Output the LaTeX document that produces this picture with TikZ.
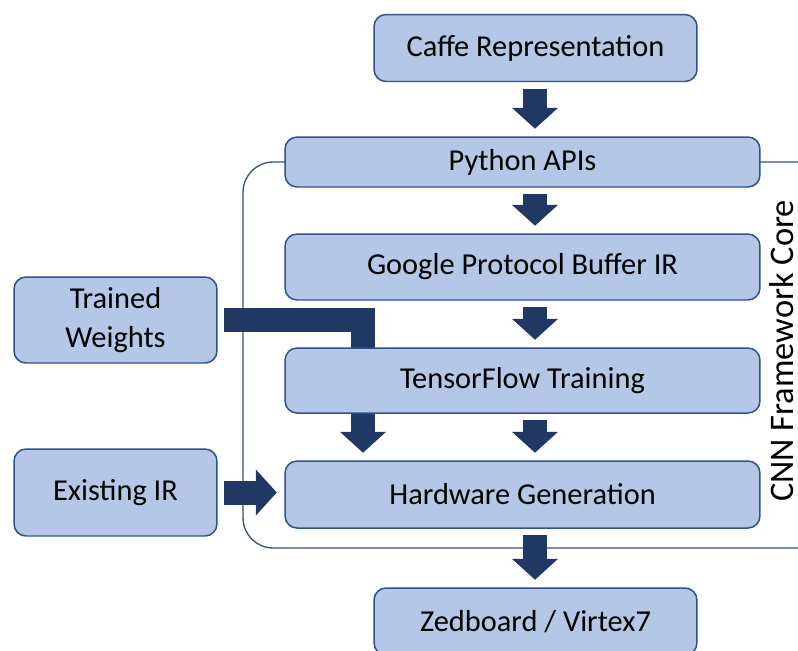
\documentclass[tikz,border=0pt]{standalone}
\usepackage{fontspec}
\setmainfont{Carlito}
\usepackage{tikz}
\usetikzlibrary{calc, arrows.meta, backgrounds, positioning}
\definecolor{boxfill}{RGB}{180, 199, 231}
\definecolor{boxline}{RGB}{47, 82, 143}
\definecolor{navy}{RGB}{31, 56, 100}
\tikzset{
    boxnode/.style = {draw=boxline, fill=boxfill, rectangle, rounded corners=0.24cm, line width=0.85pt,
      inner sep=0em, align=center, font=\fontsize{17.3}{22}\selectfont},
    textnode/.style = {draw=none, fill=none, rectangle, inner sep=0em, text depth=0pt, font=\fontsize{19.6}{24}\selectfont},
    corebox/.style = {draw=boxline, fill=none, rectangle, rounded corners=0.6cm, line width=0.75pt, inner sep=0em},
    blockarrow/.style = {navy, line width=0.48cm, -{Triangle[width=0.9cm, length=0.42cm]},
      shorten <=0.13cm, shorten >=0.15cm}
}

\begin{document}
\begin{tikzpicture}[x=0.02cm, y=-0.02cm]
    \useasboundingbox (0,0) rectangle (798,650);

    \node[boxnode, name=Caffe, minimum width=6.46cm, minimum height=1.34cm] at (535.5,48) {Caffe Representation};
    \node[boxnode, name=Python, minimum width=9.5cm, minimum height=1cm] at (522.5,162) {Python APIs};
    \node[boxnode, name=ProtoBuf, minimum width=9.5cm, minimum height=1.32cm] at (522.5,267) {Google Protocol Buffer IR};
    \node[boxnode, name=Training, minimum width=9.5cm, minimum height=1.3cm] at (522.5,380.5) {TensorFlow Training};
    \node[boxnode, name=HwGen, minimum width=9.5cm, minimum height=1.34cm] at (522.5,494.5) {Hardware Generation};
    \node[boxnode, name=Board, minimum width=6.46cm, minimum height=1.34cm] at (535.5,621.5) {Zedboard / Virtex7};

    \node[boxnode, name=Weights, minimum width=4.06cm, minimum height=1.72cm] at (115.5,320) {Trained\\Weights};
    \node[boxnode, name=ExistIR, minimum width=4.06cm, minimum height=1.74cm] at (115.5,492.5) {Existing IR};
    \node[textnode, name=CoreLabel, rotate=90, anchor=south] at (794,351) {CNN Framework Core};

    \coordinate (FlowCol) at (535,0);
    \coordinate (WeightCol) at (363,0);

    \begin{pgfonlayer}{background}
        \node[corebox, name=Core, minimum width=12cm, minimum height=7.72cm] at (543,355) {};
        \draw[blockarrow] (Caffe.south -| FlowCol) -- (Python.north -| FlowCol);
        \draw[blockarrow] (Python.south -| FlowCol) -- (ProtoBuf.north -| FlowCol);
        \draw[blockarrow] (ProtoBuf.south -| FlowCol) -- (Training.north -| FlowCol);
        \draw[blockarrow] (Training.south -| FlowCol) -- (HwGen.north -| FlowCol);
        \draw[blockarrow] (HwGen.south -| FlowCol) -- (Board.north -| FlowCol);
        \draw[blockarrow] (Weights.east) -| (HwGen.north -| WeightCol);
        \draw[blockarrow] (ExistIR.east) -- (ExistIR.east -| HwGen.west);
    \end{pgfonlayer}
\end{tikzpicture}
\end{document}
